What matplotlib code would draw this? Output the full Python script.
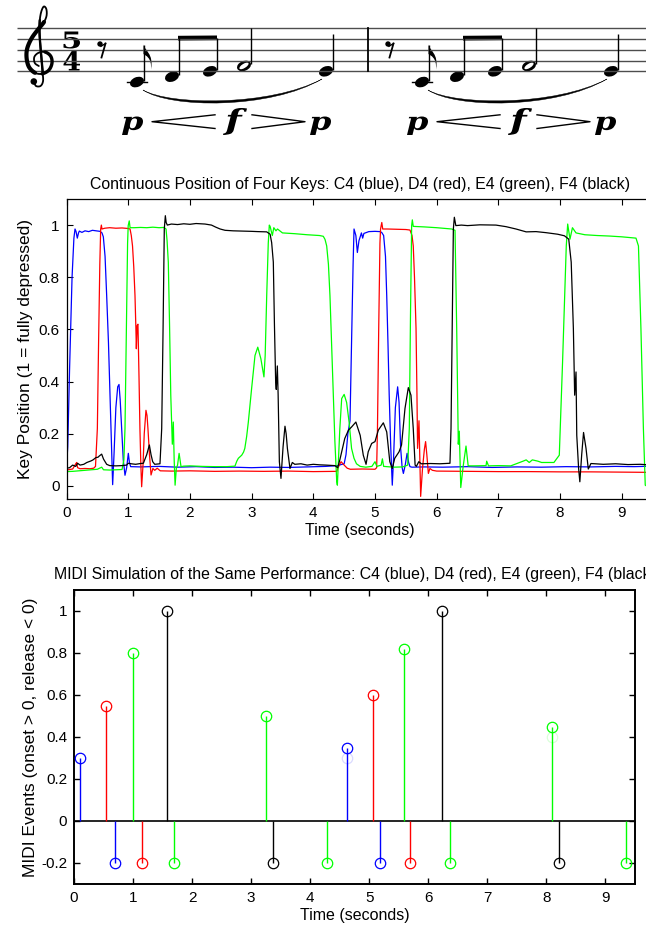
import numpy as np
import matplotlib
matplotlib.use("Agg")
import matplotlib.pyplot as plt
from matplotlib.patches import Ellipse, PathPatch, Circle
from matplotlib.path import Path
from matplotlib.textpath import TextPath
from matplotlib.font_manager import FontProperties
from matplotlib.transforms import Affine2D

plt.rcParams['font.family'] = ['Liberation Sans', 'DejaVu Sans']
plt.rcParams['axes.unicode_minus'] = False

# ---------------- data: continuous key positions ----------------
c4_t = [0.00, 0.02, 0.05, 0.09, 0.12, 0.138, 0.155, 0.175, 0.195, 0.208, 0.25, 0.30, 0.36, 0.42, 0.48,
        0.543, 0.575, 0.597, 0.625, 0.651, 0.68, 0.705, 0.73, 0.748, 0.77, 0.80, 0.83, 0.851, 0.87, 0.894,
        0.92, 0.948, 0.975, 1.002, 1.02, 1.04, 1.2, 1.5, 1.8, 2.1, 2.4, 2.7, 3.0, 3.3, 3.6, 3.9, 4.2, 4.40,
        4.45, 4.50, 4.53, 4.56, 4.595, 4.62, 4.645, 4.66, 4.69, 4.714, 4.74, 4.78, 4.80, 4.82, 4.9, 5.0,
        5.08, 5.108, 5.14, 5.17, 5.19, 5.21, 5.23, 5.255, 5.28, 5.30, 5.33, 5.367, 5.39, 5.416, 5.44, 5.46,
        5.49, 5.52, 5.545, 5.567, 5.6, 5.8, 6.1, 6.5, 6.9, 7.3, 7.7, 8.1, 8.5, 8.9, 9.2, 9.5]
c4_y = [0.07, 0.15, 0.45, 0.80, 0.95, 0.985, 0.975, 0.95, 0.97, 0.977, 0.972, 0.978, 0.975, 0.98, 0.978,
        0.976, 0.97, 0.955, 0.88, 0.73, 0.55, 0.35, 0.15, 0.005, 0.12, 0.30, 0.38, 0.389, 0.33, 0.22,
        0.10, 0.041, 0.07, 0.125, 0.09, 0.074, 0.073, 0.075, 0.072, 0.074, 0.071, 0.072, 0.070, 0.072, 0.071, 0.073, 0.075, 0.078,
        0.082, 0.085, 0.12, 0.20, 0.25, 0.55, 0.85, 0.985, 0.96, 0.895, 0.94, 0.97, 0.95, 0.968, 0.975, 0.976,
        0.975, 0.972, 0.96, 0.88, 0.73, 0.55, 0.35, 0.15, 0.003, 0.10, 0.30, 0.38, 0.32, 0.144, 0.07, 0.048,
        0.08, 0.125, 0.09, 0.074, 0.072, 0.073, 0.072, 0.074, 0.071, 0.073, 0.072, 0.074, 0.073, 0.075, 0.074, 0.076]

d4_t = [0.00, 0.10, 0.15, 0.165, 0.18, 0.22, 0.30, 0.38, 0.44, 0.47, 0.50, 0.52, 0.54, 0.554, 0.565, 0.575,
        0.62, 0.7, 0.8, 0.9, 1.0, 1.03, 1.05, 1.07, 1.09, 1.11, 1.125, 1.132, 1.145, 1.158, 1.164, 1.175,
        1.19, 1.205, 1.218, 1.24, 1.26, 1.288, 1.305, 1.32, 1.345, 1.37, 1.40, 1.43, 1.47, 1.52, 1.7, 2.0,
        2.4, 2.8, 3.2, 3.6, 4.0, 4.38, 4.42, 4.45, 4.5, 4.55, 4.6, 4.8, 5.0, 5.027, 5.04, 5.06, 5.08, 5.09,
        5.11, 5.125, 5.2, 5.35, 5.5, 5.567, 5.6, 5.62, 5.64, 5.665, 5.68, 5.69, 5.713, 5.74, 5.77, 5.80,
        5.82, 5.84, 5.865, 5.89, 5.93, 6.0, 6.5, 7.0, 7.5, 8.0, 8.5, 9.0, 9.5]
d4_y = [0.061, 0.065, 0.085, 0.09, 0.07, 0.066, 0.067, 0.066, 0.068, 0.075, 0.22, 0.55, 0.85, 0.985, 1.00, 0.985,
        0.988, 0.99, 0.988, 0.989, 0.987, 0.985, 0.96, 0.92, 0.84, 0.73, 0.60, 0.526, 0.615, 0.62, 0.55, 0.42,
        0.22, 0.08, -0.003, 0.08, 0.20, 0.29, 0.27, 0.22, 0.12, 0.042, 0.067, 0.06, 0.068, 0.058, 0.057, 0.058,
        0.056, 0.057, 0.056, 0.057, 0.055, 0.056, 0.08, 0.093, 0.08, 0.068, 0.064, 0.065, 0.064, 0.07, 0.22, 0.60, 0.93, 0.985,
        1.01, 0.985, 0.985, 0.984, 0.983, 0.981, 0.96, 0.92, 0.80, 0.604, 0.35, 0.144, 0.25, -0.04, 0.067, 0.14,
        0.17, 0.12, 0.048, 0.067, 0.06, 0.057, 0.056, 0.055, 0.055, 0.054, 0.054, 0.053, 0.052]

e4_t = [0.00, 0.1, 0.2, 0.3, 0.4, 0.5, 0.55, 0.57, 0.6, 0.7, 0.8, 0.9, 0.93, 0.948, 0.97, 0.99, 1.0, 1.017,
        1.03, 1.1, 1.2, 1.3, 1.4, 1.5, 1.58, 1.613, 1.63, 1.65, 1.67, 1.69, 1.715, 1.731, 1.745, 1.76, 1.78,
        1.80, 1.825, 1.84, 1.856, 1.9, 2.0, 2.2, 2.4, 2.6, 2.73, 2.76, 2.785, 2.84, 2.87, 2.89, 2.92, 2.947,
        3.0, 3.055, 3.1, 3.15, 3.2, 3.22, 3.245, 3.27, 3.287, 3.30, 3.336, 3.36, 3.395, 3.42, 3.5, 3.7, 3.9,
        4.1, 4.162, 4.19, 4.217, 4.245, 4.27, 4.30, 4.325, 4.35, 4.38, 4.39, 4.43, 4.46, 4.50, 4.54, 4.58,
        4.62, 4.66, 4.70, 4.76, 4.85, 4.95, 5.0, 5.03, 5.1, 5.12, 5.14, 5.3, 5.45, 5.53, 5.556, 5.575, 5.594,
        5.605, 5.62, 5.8, 6.0, 6.243, 6.297, 6.324, 6.35, 6.366, 6.39, 6.43, 6.475, 6.51, 6.6, 6.8, 6.81, 6.84,
        7.0, 7.2, 7.4, 7.45, 7.5, 7.55, 7.64, 7.7, 7.9, 7.987, 8.04, 8.1, 8.123, 8.16, 8.2, 8.258, 8.4, 8.6,
        8.8, 9.0, 9.23, 9.27, 9.31, 9.35, 9.38, 9.40]
e4_y = [0.055, 0.056, 0.058, 0.06, 0.062, 0.064, 0.07, 0.072, 0.062, 0.061, 0.062, 0.063, 0.10, 0.22, 0.60, 0.93, 0.998, 1.016,
        0.99, 0.99, 0.991, 0.99, 0.992, 0.99, 0.991, 0.985, 0.94, 0.858, 0.62, 0.348, 0.16, 0.245, 0.10, 0.003, 0.067,
        0.08, 0.125, 0.10, 0.074, 0.076, 0.077, 0.075, 0.074, 0.074, 0.076, 0.095, 0.106, 0.118, 0.13, 0.144, 0.19, 0.245,
        0.373, 0.50, 0.532, 0.488, 0.418, 0.50, 0.73, 0.93, 1.00, 0.995, 0.96, 0.99, 0.978, 0.985, 0.97, 0.967, 0.963,
        0.96, 0.957, 0.945, 0.92, 0.85, 0.73, 0.52, 0.348, 0.17, 0.016, 0.003, 0.22, 0.335, 0.351, 0.32, 0.245,
        0.144, 0.106, 0.085, 0.075, 0.072, 0.075, 0.093, 0.075, 0.08, 0.104, 0.075, 0.072, 0.073, 0.08, 0.22, 0.65, 0.998,
        1.02, 0.995, 0.993, 0.99, 0.985, 0.98, 0.604, 0.16, 0.21, -0.006, 0.077, 0.153, 0.077, 0.077, 0.078, 0.095, 0.077,
        0.078, 0.077, 0.095, 0.10, 0.09, 0.10, 0.095, 0.09, 0.09, 0.118, 0.475, 0.92, 1.004, 0.946, 0.99, 0.97, 0.963, 0.96,
        0.958, 0.955, 0.95, 0.92, 0.604, 0.22, 0.003, 0.0]

f4_t = [0.0, 0.05, 0.10, 0.15, 0.18, 0.22, 0.28, 0.33, 0.397, 0.43, 0.478, 0.51, 0.532, 0.57, 0.60, 0.651,
        0.7, 0.8, 0.9, 0.975, 1.0, 1.05, 1.12, 1.2, 1.246, 1.3, 1.343, 1.37, 1.397, 1.43, 1.515, 1.543, 1.565,
        1.585, 1.602, 1.615, 1.634, 1.7, 1.8, 1.9, 2.0, 2.1, 2.245, 2.35, 2.42, 2.49, 2.57, 2.7, 2.89, 3.0, 3.1,
        3.245, 3.3, 3.325, 3.352, 3.37, 3.39, 3.40, 3.417, 3.43, 3.45, 3.476, 3.51, 3.541, 3.56, 3.58, 3.622,
        3.66, 3.7, 3.8, 3.9, 4.0, 4.1, 4.2, 4.35, 4.395, 4.43, 4.46, 4.51, 4.57, 4.62, 4.69, 4.76, 4.81, 4.855,
        4.89, 4.946, 5.0, 5.054, 5.1, 5.135, 5.19, 5.24, 5.28, 5.32, 5.39, 5.43, 5.486, 5.54, 5.583, 5.62, 5.65,
        5.67, 5.71, 5.75, 5.9, 6.05, 6.215, 6.232, 6.25, 6.27, 6.286, 6.31, 6.4, 6.5, 6.7, 6.96, 7.123, 7.285,
        7.45, 7.61, 7.77, 7.96, 8.07, 8.14, 8.18, 8.215, 8.236, 8.258, 8.27, 8.3, 8.32, 8.35, 8.38, 8.42, 8.457,
        8.5, 8.7, 8.9, 9.1, 9.3, 9.5]
f4_y = [0.068, 0.07, 0.08, 0.075, 0.087, 0.08, 0.083, 0.09, 0.096, 0.10, 0.109, 0.11, 0.115, 0.122, 0.103, 0.083,
        0.078, 0.077, 0.078, 0.08, 0.087, 0.085, 0.083, 0.086, 0.087, 0.12, 0.157, 0.12, 0.093, 0.083, 0.085, 0.22, 0.60,
        0.985, 1.036, 1.01, 1.0, 1.004, 1.002, 1.005, 1.003, 1.006, 1.004, 1.0, 0.992, 0.985, 0.98, 0.978, 0.977, 0.976, 0.975,
        0.974, 0.965, 0.933, 0.858, 0.62, 0.398, 0.37, 0.46, 0.35, 0.093, 0.029, 0.15, 0.229, 0.20, 0.144, 0.067,
        0.09, 0.083, 0.085, 0.08, 0.083, 0.081, 0.08, 0.078, 0.07, 0.10, 0.131, 0.182, 0.214, 0.226, 0.245, 0.194, 0.118, 0.083,
        0.131, 0.163, 0.17, 0.214, 0.23, 0.242, 0.207, 0.093, 0.067, 0.106, 0.131, 0.157, 0.297, 0.377, 0.348, 0.22, 0.08,
        0.075, 0.093, 0.085, 0.086, 0.085, 0.087, 0.22, 0.60, 0.985, 1.03, 0.998, 1.0, 0.998, 1.001, 1.0, 0.994, 0.985,
        0.974, 0.975, 0.971, 0.965, 0.959, 0.946, 0.858, 0.604, 0.348, 0.437, 0.194, 0.067, 0.016, 0.12, 0.205, 0.144, 0.065,
        0.086, 0.083, 0.085, 0.082, 0.083, 0.08]

# ---------------- data: MIDI events ----------------
release_level = -0.2
c4_on_t = [0.10, 4.62]; c4_on_v = [0.30, 0.35]; c4_off_t = [0.70, 5.19]
d4_on_t = [0.55, 5.06]; d4_on_v = [0.55, 0.60]; d4_off_t = [1.15, 5.69]
e4_on_t = [1.00, 3.25, 5.59, 8.09]; e4_on_v = [0.80, 0.50, 0.82, 0.45]; e4_off_t = [1.70, 4.29, 6.37, 9.34]
f4_on_t = [1.57, 6.24]; f4_on_v = [1.00, 1.00]; f4_off_t = [3.37, 8.21]
ghost_t = [4.62, 8.09]; ghost_v = [0.30, 0.40]; ghost_c = ['#0000ff', '#00ff00']

x_ticks = [0, 1, 2, 3, 4, 5, 6, 7, 8, 9]
y_ticks_top = [0, 0.2, 0.4, 0.6, 0.8, 1.0]
y_ticks_bot = [-0.2, 0, 0.2, 0.4, 0.6, 0.8, 1.0]

title_top = "Continuous Position of Four Keys: C4 (blue), D4 (red), E4 (green), F4 (black)"
title_bot = "MIDI Simulation of the Same Performance: C4 (blue), D4 (red), E4 (green), F4 (black)"

colors = ['#0000ff', '#ff0000', '#00ff00', '#000000']

W, H = 646, 926
fig = plt.figure(figsize=(W / 100, H / 100), dpi=100)


def px_axes(l, t, r, b):
    return fig.add_axes([l / W, 1 - b / H, (r - l) / W, (b - t) / H])


def fmt(v, pos):
    s = '%g' % v
    return '0' if s in ('-0', '0') else s

# ---------------- music notation ----------------
axm = fig.add_axes([0, 0, 1, 1])
axm.set_xlim(0, W)
axm.set_ylim(H, 0)
axm.axis('off')

staff_top, gap = 28.3, 10.75
for i in range(5):
    yy = staff_top + i * gap
    axm.plot([17, W], [yy, yy], color='0.3', lw=1.0, solid_capstyle='butt')
bottom_line = staff_top + 4 * gap
axm.plot([367.7, 367.7], [staff_top, bottom_line], color='k', lw=1.3)


def ypos(step):  # step 0 = E4 (bottom line)
    return bottom_line - step * gap / 2


def glyph(s, fp, x0, x1, ytop, ybot):
    tp = TextPath((0, 0), s, size=10, prop=fp)
    ext = tp.get_extents()
    tr = (Affine2D().translate(-ext.x0, -ext.y0)
          .scale((x1 - x0) / ext.width, -(ybot - ytop) / ext.height)
          .translate(x0, ybot))
    axm.add_patch(PathPatch(tr.transform_path(tp), fc='k', ec='none', lw=0))


def smooth(pts, n=10):
    P = np.array(pts, float)
    P = np.vstack([P[0], P, P[-1]])
    out = []
    for i in range(1, len(P) - 2):
        p0, p1, p2, p3 = P[i - 1], P[i], P[i + 1], P[i + 2]
        for u in np.linspace(0, 1, n, endpoint=False):
            out.append(0.5 * (2 * p1 + (-p0 + p2) * u + (2 * p0 - 5 * p1 + 4 * p2 - p3) * u ** 2
                              + (-p0 + 3 * p1 - 3 * p2 + p3) * u ** 3))
    out.append(P[-2])
    return np.array(out)


# treble clef (drawn as strokes)
clef_pts = [(33.5, 82), (36, 86), (40.5, 86), (43, 81.5), (42.8, 74), (41.6, 60), (40.3, 45), (39.5, 32),
            (39.8, 20), (41.3, 11.5), (43.8, 6.5), (46.3, 9), (46.6, 15.5), (44, 22), (38, 29.5), (31.5, 38.5),
            (27.2, 48.5), (26.6, 58), (29, 67), (35, 72.8), (42, 73.8), (48.8, 70.2), (52, 63), (50.6, 56),
            (45, 52), (38.5, 52.8), (34.3, 57), (34.8, 63), (38.8, 66)]
N = 10
cp = smooth(clef_pts, N)
axm.plot(cp[:, 0], cp[:, 1], color='k', lw=1.3, solid_capstyle='round')
seg = cp[13 * N:19 * N + 1]
axm.plot(seg[:, 0], seg[:, 1], color='k', lw=3.0, solid_capstyle='round')
seg = cp[20 * N:24 * N + 1]
axm.plot(seg[:, 0], seg[:, 1], color='k', lw=2.4, solid_capstyle='round')
seg = cp[4 * N:8 * N + 1]
axm.plot(seg[:, 0], seg[:, 1], color='k', lw=1.7, solid_capstyle='round')
axm.add_patch(Circle((33.8, 81.5), 3.3, fc='k', ec='none'))

# time signature
fp_ts = FontProperties(family='DejaVu Serif', weight='bold')
glyph('5', fp_ts, 63.5, 80, 31.5, 48.5)
glyph('4', fp_ts, 63.5, 80, 51, 70.5)

fp_dyn = FontProperties(family='DejaVu Serif', weight='bold', style='italic')

measure_dx = [0, 285]
rest_x = [100, 388]
note_x = [137, 172, 210, 244, 326]
note_step = [-2, -1, 0, 1, 0]
for mi, dx in enumerate(measure_dx):
    rx = rest_x[mi]
    axm.add_patch(Circle((rx, 44), 2.7, fc='k', ec='none'))
    axm.plot([rx + 1, rx + 5.5], [46.3, 43.5], color='k', lw=1.0)
    axm.plot([rx + 5.5, rx + 1.5], [43.5, 57.5], color='k', lw=1.3)
    xs = [x + dx for x in note_x]
    ys = [ypos(s) for s in note_step]
    for k, (x, y) in enumerate(zip(xs, ys)):
        axm.add_patch(Ellipse((x, y), 14.5, 9.8, angle=-22, fc='k', ec='none'))
        if k == 3:
            axm.add_patch(Ellipse((x, y), 10.5, 4.2, angle=-32, fc='white', ec='none'))
        sx = x + 6.5
        top = 37.5 if k in (1, 2) else y - 37.5
        axm.plot([sx, sx], [y - 1.5, top], color='k', lw=1.0, solid_capstyle='butt')
        if k == 0:
            axm.plot([x - 10, x + 10], [y, y], color='k', lw=1.0)
            fv = [(sx, top), (sx + 1, top + 6), (sx + 10.5, top + 9), (sx + 7.5, top + 25),
                  (sx + 8.5, top + 13), (sx + 2, top + 11), (sx, top + 9.5), (sx, top)]
            fc = [Path.MOVETO, Path.CURVE4, Path.CURVE4, Path.CURVE4,
                  Path.CURVE4, Path.CURVE4, Path.CURVE4, Path.CLOSEPOLY]
            axm.add_patch(PathPatch(Path(fv, fc), fc='k', ec='none'))
    bx0, bx1 = xs[1] + 6.5, xs[2] + 6.5
    axm.add_patch(plt.Polygon([(bx0 - 0.5, 35.8), (bx1 + 0.5, 35.5), (bx1 + 0.5, 40.2), (bx0 - 0.5, 40.5)],
                              closed=True, fc='k', ec='none'))
    x0, x1 = 143 + dx, 322 + dx
    sv = [(x0, 90), (x0 + 27, 105.5), (x0 + 127, 106.5), (x1, 79),
          (x0 + 127, 109.5), (x0 + 27, 108.5), (x0, 90), (x0, 90)]
    sc = [Path.MOVETO, Path.CURVE4, Path.CURVE4, Path.CURVE4,
          Path.CURVE4, Path.CURVE4, Path.CURVE4, Path.CLOSEPOLY]
    axm.add_patch(PathPatch(Path(sv, sc), fc='k', ec='k', lw=0.3))
    glyph('p', fp_dyn, 122 + dx, 143 + dx, 116.5, 135)
    glyph('f', fp_dyn, 223 + dx, 247 + dx, 108, 135)
    glyph('p', fp_dyn, 310 + dx, 331 + dx, 116.5, 135)
    axm.plot([215 + dx, 152 + dx, 215 + dx], [114.8, 121.7, 128.5], color='k', lw=1.0)
    axm.plot([252 + dx, 305 + dx, 252 + dx], [114.8, 121.7, 128.5], color='k', lw=1.0)

# ---------------- top chart ----------------
axt = px_axes(66.5, 199, 66.5 + 9.5 * 61.7, 499)
for t, y, c in [(c4_t, c4_y, colors[0]), (d4_t, d4_y, colors[1]),
                (e4_t, e4_y, colors[2]), (f4_t, f4_y, colors[3])]:
    axt.plot(t, y, color=c, lw=0.9)
axt.set_xlim(0, 9.5)
axt.set_ylim(-0.05, 1.1)
axt.set_xticks(x_ticks)
axt.set_yticks(y_ticks_top)
axt.yaxis.set_major_formatter(plt.FuncFormatter(fmt))
axt.tick_params(direction='in', top=True, right=True, length=4, width=0.8, labelsize=11, pad=5)
for s in axt.spines.values():
    s.set_linewidth(0.9)
axt.set_title(title_top, fontsize=11.4, pad=7)
axt.set_xlabel('Time (seconds)', fontsize=11.5, labelpad=2)
axt.set_ylabel('Key Position (1 = fully depressed)', fontsize=12.5, labelpad=4)

# ---------------- bottom chart ----------------
axb = px_axes(74, 590, 635, 884)
axb.axhline(0, color='k', lw=1.2, zorder=1)
groups = [(c4_on_t, c4_on_v, c4_off_t, colors[0]), (d4_on_t, d4_on_v, d4_off_t, colors[1]),
          (e4_on_t, e4_on_v, e4_off_t, colors[2]), (f4_on_t, f4_on_v, f4_off_t, colors[3])]
for on_t, on_v, off_t, c in groups:
    off_v = [release_level] * len(off_t)
    tt = on_t + off_t
    vv = on_v + off_v
    axb.vlines(tt, 0, vv, color=c, lw=1.0, zorder=2)
    axb.plot(tt, vv, 'o', mfc='none', mec=c, ms=7.5, mew=0.9, zorder=3)
for t, v, c in zip(ghost_t, ghost_v, ghost_c):
    axb.plot([t], [v], 'o', mfc='none', mec=c, ms=7.5, mew=0.9, alpha=0.15, zorder=3)
axb.set_xlim(0, 9.5)
axb.set_ylim(-0.3, 1.1)
axb.set_xticks(x_ticks)
axb.set_yticks(y_ticks_bot)
axb.yaxis.set_major_formatter(plt.FuncFormatter(fmt))
axb.tick_params(direction='in', top=True, right=True, length=4, width=1.0, labelsize=11, pad=5)
for s in axb.spines.values():
    s.set_linewidth(1.4)
axb.set_title(title_bot, fontsize=11.4, pad=8)
axb.set_xlabel('Time (seconds)', fontsize=11.5, labelpad=2)
axb.set_ylabel('MIDI Events (onset > 0, release < 0)', fontsize=12.5, labelpad=2)

fig.savefig('out.png', dpi=100)
